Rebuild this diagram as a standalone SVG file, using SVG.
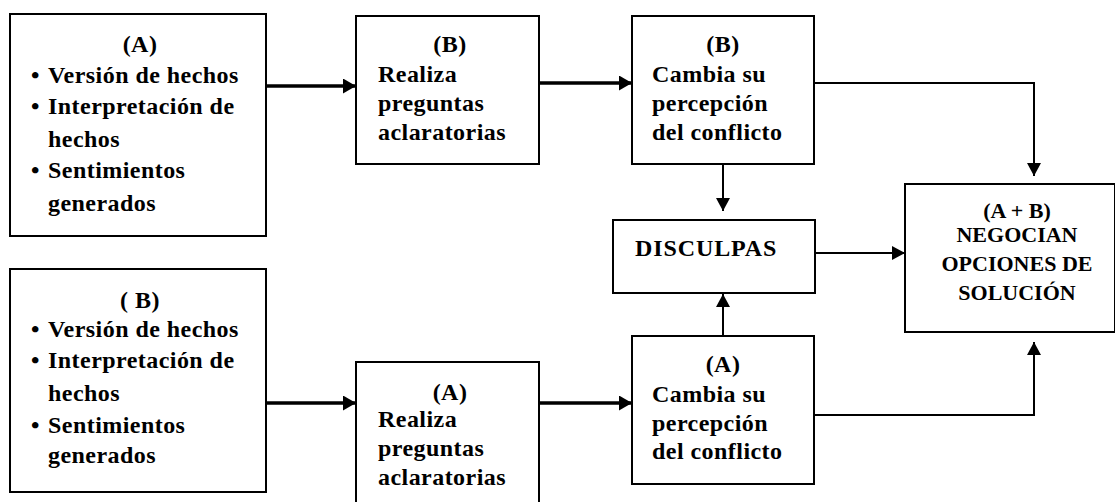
<svg xmlns="http://www.w3.org/2000/svg" width="1115" height="502" viewBox="0 0 1115 502">
<style>
.box{fill:#fff;stroke:#000;stroke-width:2}
text{font-family:"Liberation Serif","Times New Roman",serif;font-weight:bold;font-size:24px;fill:#000;letter-spacing:0.45px}
.c{text-anchor:middle}
.n{font-size:22px;letter-spacing:0}
.d{letter-spacing:0.9px}
.thick{stroke:#000;stroke-width:3.5;fill:none}
.thin{stroke:#000;stroke-width:2;fill:none}
</style>
<defs>
<marker id="ah" markerUnits="userSpaceOnUse" markerWidth="14" markerHeight="15" refX="13" refY="7.5" orient="auto">
<path d="M0,0 L13,7.5 L0,15 Z" fill="#000"/>
</marker>
<marker id="al" markerUnits="userSpaceOnUse" markerWidth="14" markerHeight="14" refX="13" refY="7" orient="auto">
<path d="M0,0 L13,7 L0,14 Z" fill="#000"/>
</marker>
</defs>
<g id="connectors">
<line class="thick" x1="266" y1="86" x2="356" y2="86" marker-end="url(#ah)"/>
<line class="thick" x1="539" y1="83" x2="632" y2="83" marker-end="url(#ah)"/>
<line class="thick" x1="266" y1="403" x2="356" y2="403" marker-end="url(#ah)"/>
<line class="thick" x1="539" y1="403" x2="632" y2="403" marker-end="url(#ah)"/>
<polyline class="thin" points="814,83 1034,83 1034,176" marker-end="url(#al)"/>
<line class="thin" x1="723" y1="164" x2="723" y2="211" marker-end="url(#al)"/>
<line class="thin" x1="723" y1="342" x2="723" y2="294" marker-end="url(#al)"/>
<line class="thin" x1="815" y1="253" x2="905" y2="253" marker-end="url(#al)"/>
<polyline class="thin" points="814,415 1034,415 1034,342" marker-end="url(#al)"/>
</g>
<g id="nodeA1">
<rect class="box" x="10" y="14" width="256" height="222"/>
<text class="c" x="140" y="52">(A)</text>
<text x="31" y="83">•</text><text x="48" y="83">Versión de hechos</text>
<text x="31" y="114">•</text><text x="48" y="114">Interpretación de</text>
<text x="48" y="147">hechos</text>
<text x="31" y="178">•</text><text x="48" y="178">Sentimientos</text>
<text x="48" y="211">generados</text>
</g>
<g id="nodeB1">
<rect class="box" x="10" y="269" width="256" height="223"/>
<text class="c" x="140" y="308">( B)</text>
<text x="31" y="337">•</text><text x="48" y="337">Versión de hechos</text>
<text x="31" y="368">•</text><text x="48" y="368">Interpretación de</text>
<text x="48" y="401">hechos</text>
<text x="31" y="433">•</text><text x="48" y="433">Sentimientos</text>
<text x="48" y="463">generados</text>
</g>
<g id="nodeB2">
<rect class="box" x="356" y="16" width="183" height="148"/>
<text class="c" x="450" y="52">(B)</text>
<text x="378" y="82">Realiza</text>
<text x="378" y="111">preguntas</text>
<text x="378" y="140">aclaratorias</text>
</g>
<g id="nodeB3">
<rect class="box" x="632" y="16" width="182" height="148"/>
<text class="c" x="723" y="52">(B)</text>
<text x="652" y="82">Cambia su</text>
<text x="652" y="111">percepción</text>
<text x="652" y="140">del conflicto</text>
</g>
<g id="nodeA2">
<rect class="box" x="356" y="362" width="183" height="150"/>
<text class="c" x="450" y="400">(A)</text>
<text x="378" y="427">Realiza</text>
<text x="378" y="456">preguntas</text>
<text x="378" y="485">aclaratorias</text>
</g>
<g id="nodeA3">
<rect class="box" x="632" y="336" width="182" height="148"/>
<text class="c" x="723" y="372">(A)</text>
<text x="652" y="402">Cambia su</text>
<text x="652" y="431">percepción</text>
<text x="652" y="459">del conflicto</text>
</g>
<g id="nodeDisculpas">
<rect class="box" x="613" y="220" width="202" height="73"/>
<text class="d" x="635" y="256">DISCULPAS</text>
</g>
<g id="nodeNegocian">
<rect class="box" x="905" y="184" width="210" height="148"/>
<text class="c n" x="1017" y="218">(A + B)</text>
<text class="c n" x="1017" y="242">NEGOCIAN</text>
<text class="c n" x="1017" y="271">OPCIONES DE</text>
<text class="c n" x="1017" y="300">SOLUCIÓN</text>
</g>
</svg>
